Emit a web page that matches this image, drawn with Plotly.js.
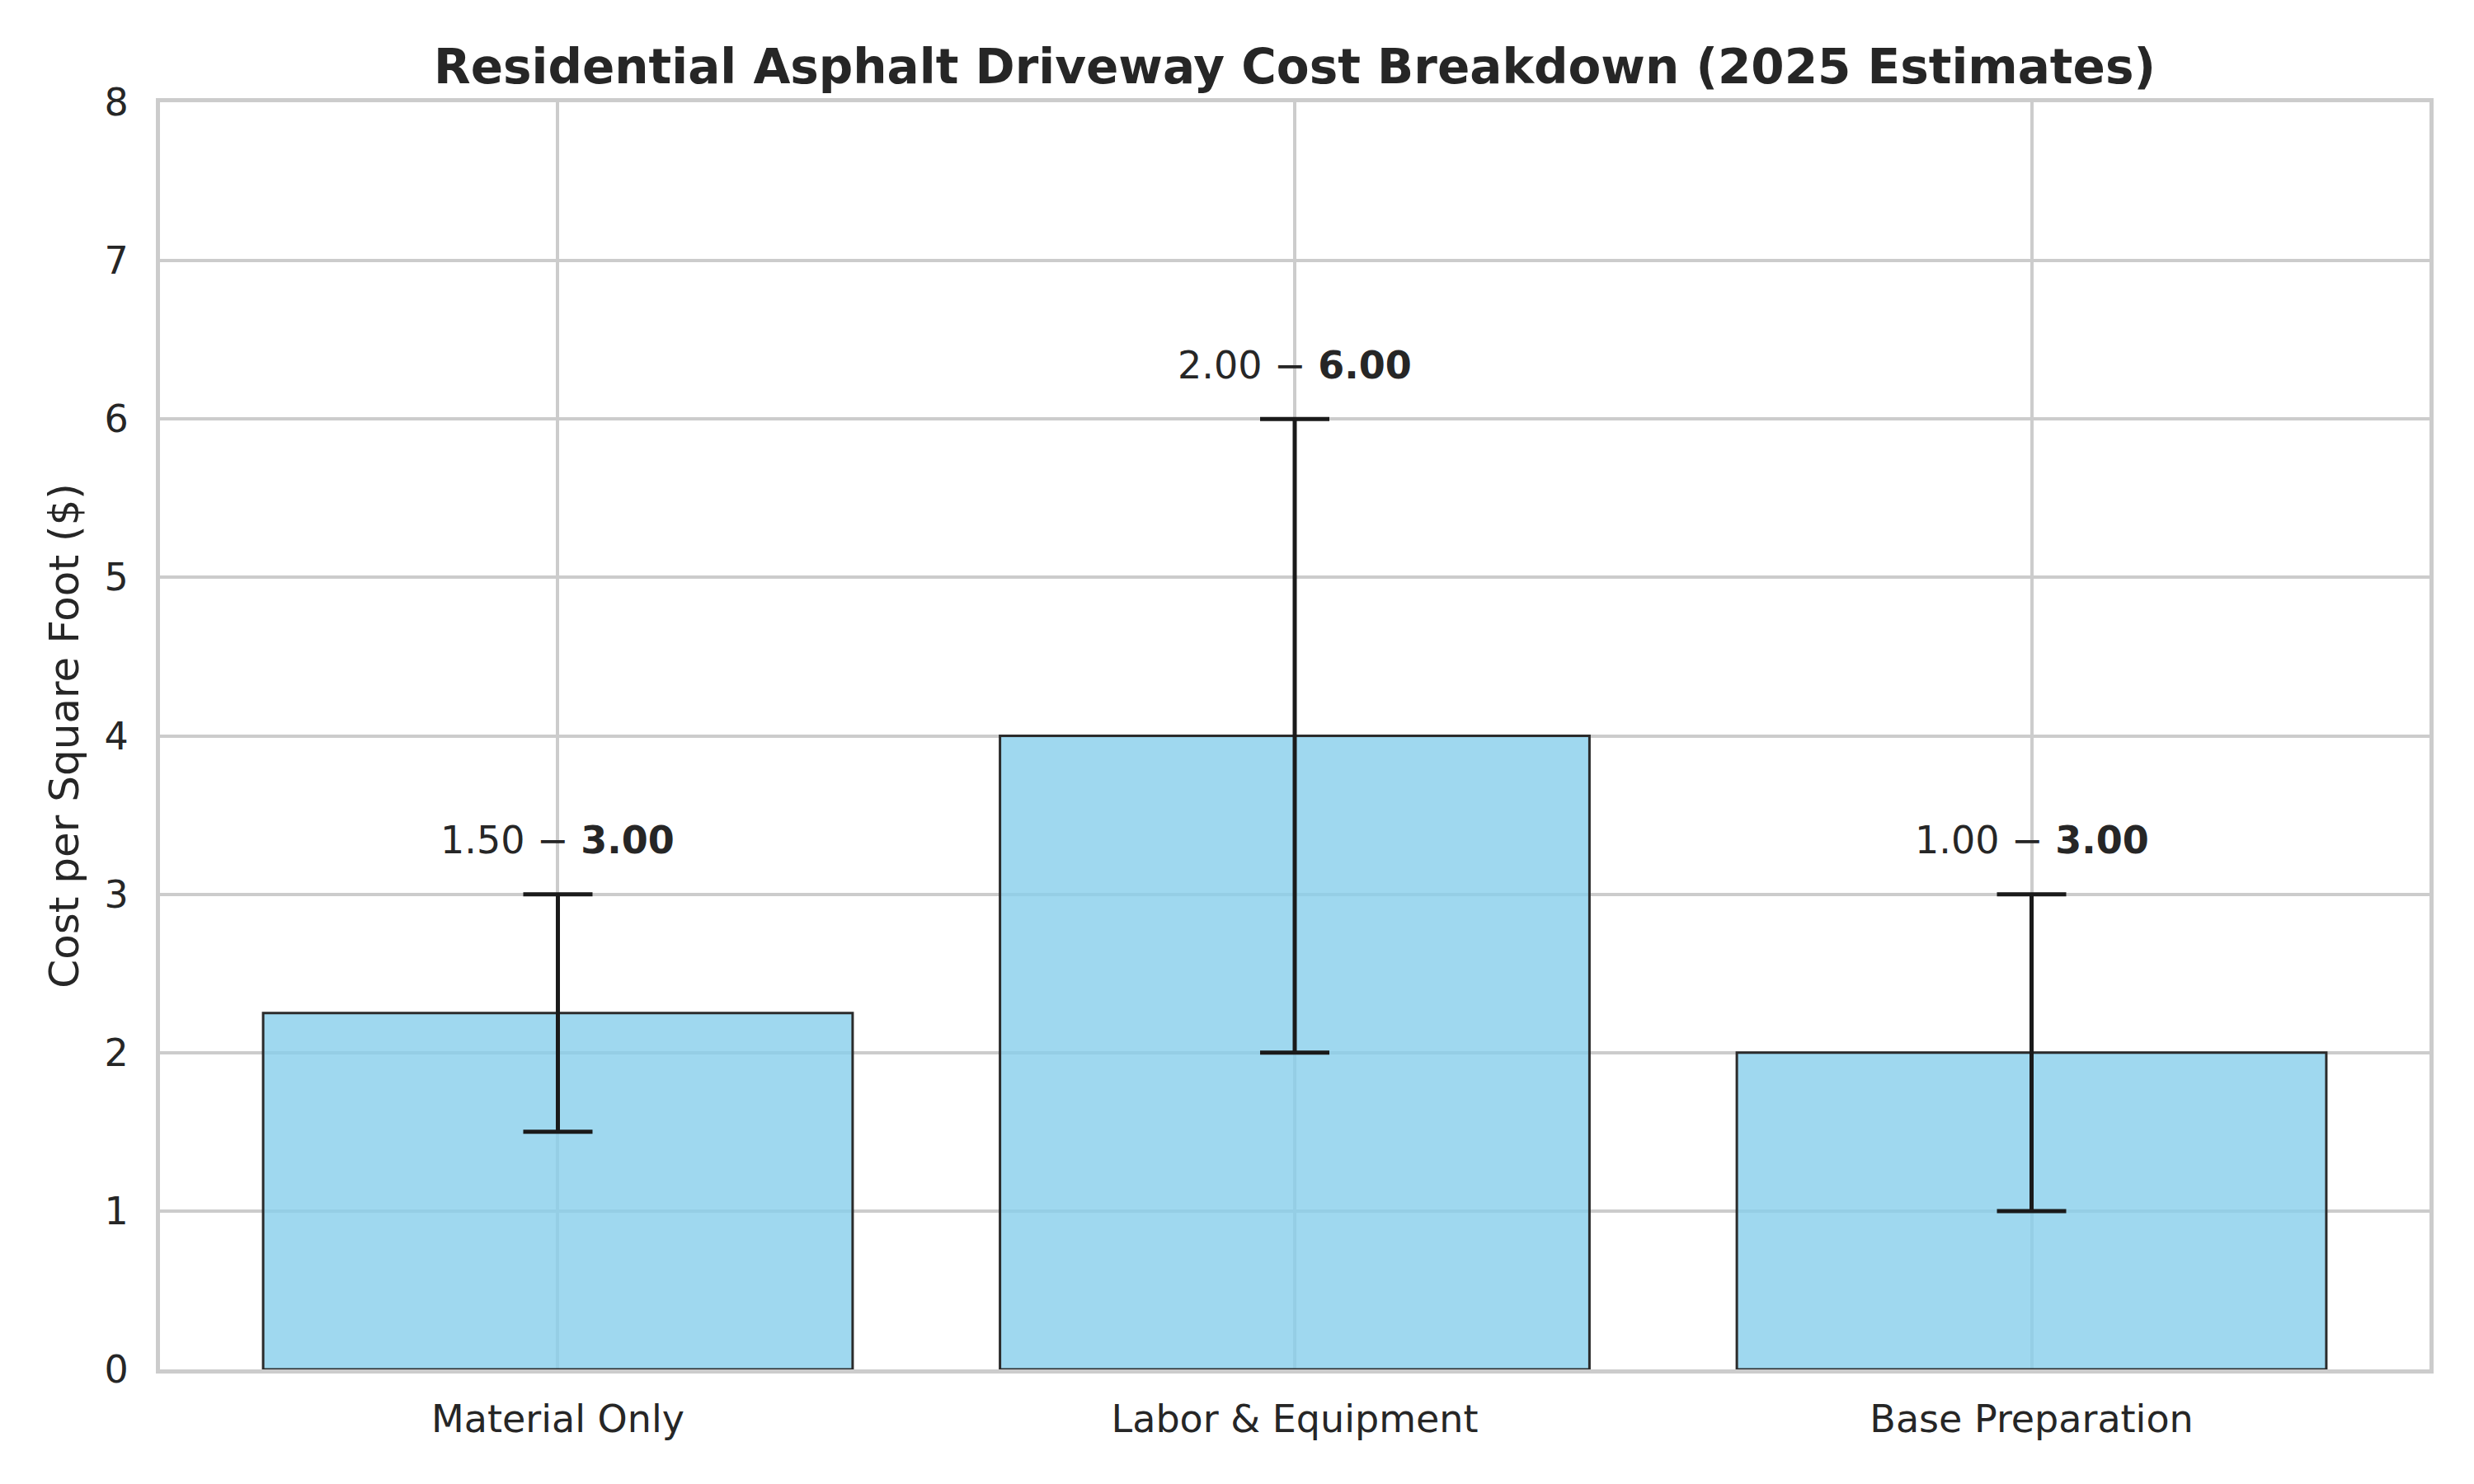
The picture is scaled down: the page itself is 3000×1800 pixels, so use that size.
<!DOCTYPE html>
<html>
<head>
<meta charset="utf-8">
<script src="https://cdn.plot.ly/plotly-3.0.1.min.js"></script>
<style>
  body { margin: 0; background: #fff; }
  #chart { width: 3000px; height: 1800px; }
</style>
</head>
<body>
<div id="chart"></div>
<script>
// data
let categories = ['Material Only', 'Labor & Equipment', 'Base Preparation']
let lowCost = [1.5, 2.0, 1.0]
let highCost = [3.0, 6.0, 3.0]
let yTicks = [0, 1, 2, 3, 4, 5, 6, 7, 8]

// bar = middle of the range, error bar = the range
let midCost = lowCost.map((lo, i) => (lo + highCost[i]) / 2)
let plusErr = highCost.map((hi, i) => hi - midCost[i])
let minusErr = lowCost.map((lo, i) => midCost[i] - lo)

let textColor = '#262626'
let font = 'DejaVu Sans'

let bars = {
  type: 'bar',
  x: categories,
  y: midCost,
  width: 0.8,
  marker: {
    color: 'rgba(135,206,235,0.8)',
    line: { color: '#2b2b2b', width: 3 }
  },
  error_y: {
    type: 'data',
    symmetric: false,
    array: plusErr,
    arrayminus: minusErr,
    color: '#1a1a1a',
    thickness: 5,
    width: 42
  },
  hoverinfo: 'skip'
}

// range labels above the error bars
let annotations = categories.map((cat, i) => ({
  x: cat,
  y: highCost[i] + 0.34,
  xref: 'x',
  yref: 'y',
  text: lowCost[i].toFixed(2) + ' − <b>' + highCost[i].toFixed(2) + '</b>',
  showarrow: false,
  xanchor: 'center',
  yanchor: 'middle',
  font: { family: font, size: 46, color: textColor }
}))

let layout = {
  width: 3000,
  height: 1800,
  paper_bgcolor: '#ffffff',
  plot_bgcolor: '#ffffff',
  margin: { l: 194, r: 54, t: 124, b: 139 },
  showlegend: false,
  font: { family: font, color: textColor },
  title: {
    text: '<b>Residential Asphalt Driveway Cost Breakdown (2025 Estimates)</b>',
    font: { family: font, size: 58, color: textColor },
    x: 0.5,
    xref: 'paper',
    xanchor: 'center',
    y: 1 - 81 / 1800,
    yref: 'container',
    yanchor: 'middle'
  },
  xaxis: {
    type: 'category',
    range: [-0.54, 2.54],
    showgrid: true,
    gridcolor: '#cccccc',
    gridwidth: 4,
    showline: true,
    mirror: true,
    linecolor: '#cccccc',
    linewidth: 5,
    ticks: '',
    ticklabelstandoff: 16,
    tickfont: { family: font, size: 46, color: textColor }
  },
  yaxis: {
    range: [0, 8],
    tickvals: yTicks,
    ticktext: yTicks.map(String),
    showgrid: true,
    gridcolor: '#cccccc',
    gridwidth: 4,
    zeroline: false,
    showline: true,
    mirror: true,
    linecolor: '#cccccc',
    linewidth: 5,
    ticks: '',
    ticklabelstandoff: 24,
    tickfont: { family: font, size: 46, color: textColor },
    title: {
      text: 'Cost per Square Foot ($)',
      font: { family: font, size: 50, color: textColor },
      standoff: 17
    }
  },
  annotations: annotations
}

Plotly.newPlot('chart', [bars], layout, { displayModeBar: false, staticPlot: true })
</script>
</body>
</html>
